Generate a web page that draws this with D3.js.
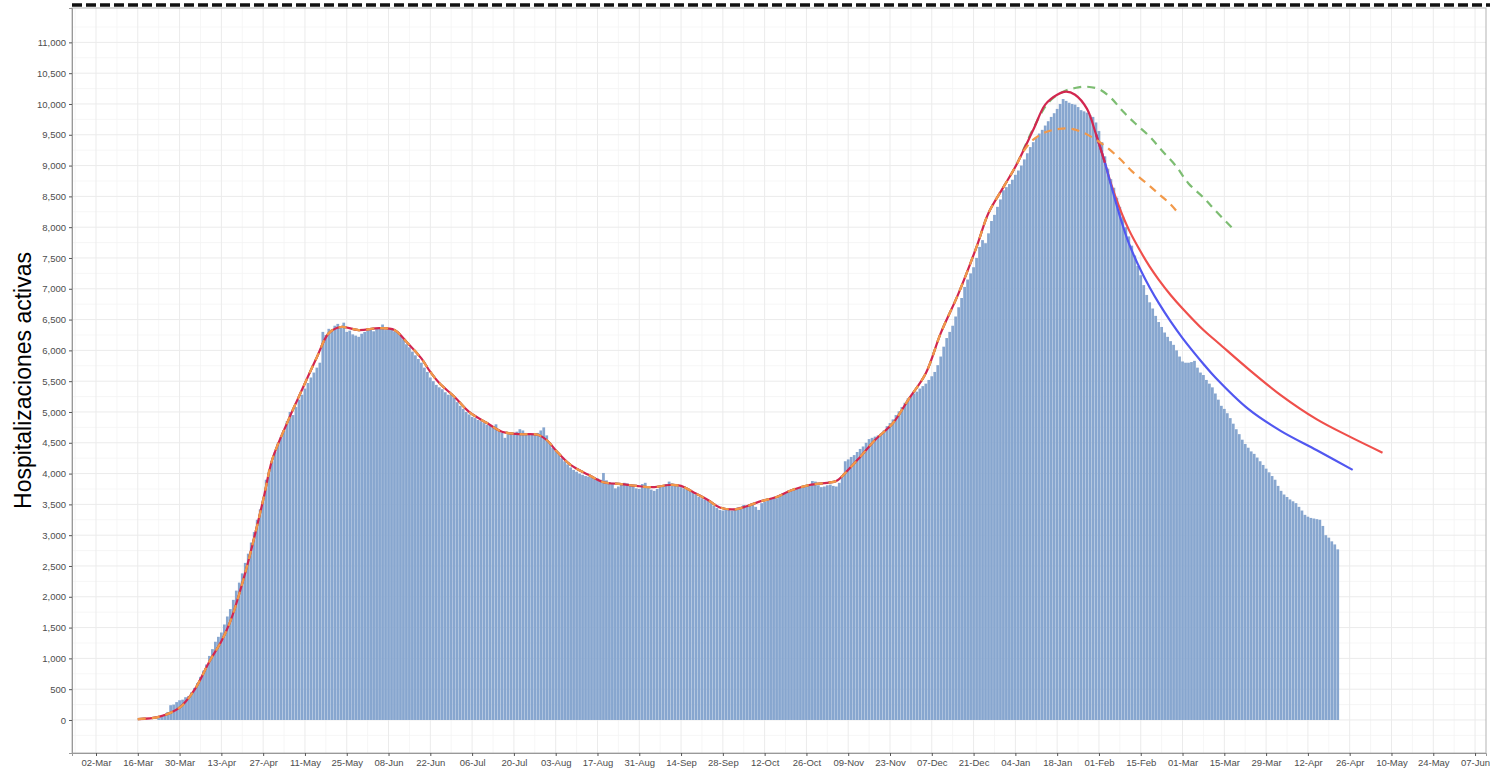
<!DOCTYPE html>
<html>
<head>
<meta charset="utf-8">
<script src="https://cdn.jsdelivr.net/npm/d3@7"></script>
<style>
  body { margin: 0; background: #fff; }
  text { font-family: "Liberation Sans", Arial, Helvetica, sans-serif; }
</style>
</head>
<body>
<div id="chart"></div>
<script>

// daily active hospitalisations, one value per day starting firstDay (rows = weeks, Mon..Sun)
var firstDay = "2020-03-23";
var hospitalized = [
    30, 60, 90, 130, 240, 250, 290,
    320, 330, 370, 390, 450, 520, 600,
    700, 800, 900, 1040, 1150, 1270, 1350,
    1420, 1550, 1680, 1800, 1950, 2100, 2230,
    2380, 2550, 2700, 2880, 3050, 3250, 3420,
    3570, 3900, 4050, 4200, 4350, 4500, 4600,
    4700, 4850, 5000, 4950, 5080, 5200, 5280,
    5380, 5470, 5560, 5640, 5720, 5800, 6300,
    6250, 6350, 6330, 6400, 6430, 6380, 6450,
    6300, 6320, 6260, 6240, 6220, 6270, 6300,
    6320, 6340, 6310, 6350, 6370, 6420, 6330,
    6360, 6340, 6310, 6290, 6240, 6180, 6100,
    6050, 5980, 5920, 5860, 5800, 5720, 5650,
    5560, 5500, 5440, 5400, 5370, 5320, 5280,
    5300, 5230, 5160, 5100, 5050, 5000, 4960,
    4920, 4900, 4870, 4850, 4820, 4790, 4780,
    4760, 4800, 4700, 4660, 4580, 4640, 4660,
    4660, 4680, 4720, 4700, 4660, 4650, 4640,
    4630, 4660, 4700, 4750, 4620, 4500, 4420,
    4370, 4320, 4250, 4200, 4150, 4100, 4060,
    4030, 4000, 3980, 3960, 3950, 3940, 3920,
    3920, 3900, 4010, 3890, 3860, 3850, 3760,
    3790, 3830, 3850, 3840, 3820, 3800, 3760,
    3750, 3830, 3850, 3780, 3740, 3720, 3750,
    3780, 3800, 3830, 3870, 3840, 3820, 3790,
    3780, 3760, 3740, 3720, 3700, 3660, 3620,
    3600, 3580, 3560, 3520, 3480, 3440, 3410,
    3400, 3410, 3420, 3400, 3430, 3450, 3460,
    3490, 3470, 3480, 3500, 3460, 3410, 3520,
    3540, 3560, 3590, 3610, 3600, 3630, 3660,
    3680, 3710, 3730, 3740, 3760, 3770, 3790,
    3800, 3820, 3880, 3870, 3810, 3780, 3790,
    3810, 3820, 3800, 3790, 3850, 3960, 4200,
    4230, 4270, 4300, 4350, 4400, 4440, 4500,
    4560, 4580, 4600, 4620, 4650, 4700, 4770,
    4820, 4880, 4950, 5010, 5080, 5150, 5220,
    5260, 5300, 5330, 5380, 5420, 5460, 5520,
    5580, 5650, 5760, 5900, 6060, 6200, 6300,
    6400, 6550, 6700, 6850, 7030, 7150, 7250,
    7350, 7500, 7680, 7790, 7740, 7900, 8100,
    8200, 8330, 8450, 8600, 8650, 8700, 8770,
    8850, 8920, 9000, 9100, 9200, 9300, 9380,
    9450, 9520, 9580, 9650, 9720, 9790, 9850,
    9920, 10000, 10080, 10050, 10020, 10000, 9990,
    9950, 9900, 9880, 9860, 9820, 9790, 9700,
    9560, 9380, 9150, 8950, 8780, 8640, 8480,
    8330, 8170, 8000, 7850, 7700, 7540, 7370,
    7220, 7060, 6900, 6780, 6680, 6560, 6460,
    6380, 6290, 6220, 6150, 6090, 6000, 5900,
    5820, 5800, 5800, 5810, 5830, 5720, 5640,
    5600, 5520, 5460, 5400, 5300, 5200, 5100,
    5050, 4980, 4900, 4810, 4720, 4640, 4550,
    4480, 4420, 4360, 4320, 4260, 4200, 4140,
    4080, 4020, 3960, 3900, 3800, 3720, 3660,
    3620, 3580, 3550, 3520, 3460, 3400, 3330,
    3300, 3280, 3270, 3260, 3250, 3150, 3000,
    2960, 2900, 2850, 2770
];

// smoothed fit, shared by all scenarios up to early January
var fitCurve = [
    ["2020-03-16", 15], ["2020-03-23", 50], ["2020-03-30", 200], ["2020-04-04", 490],
    ["2020-04-09", 950], ["2020-04-13", 1280], ["2020-04-16", 1600], ["2020-04-21", 2390],
    ["2020-04-27", 3570], ["2020-04-30", 4220], ["2020-05-05", 4820], ["2020-05-10", 5360],
    ["2020-05-15", 5890], ["2020-05-19", 6280], ["2020-05-23", 6380], ["2020-05-29", 6330],
    ["2020-06-05", 6360], ["2020-06-10", 6330], ["2020-06-14", 6140], ["2020-06-19", 5870],
    ["2020-06-22", 5650], ["2020-06-25", 5470], ["2020-06-30", 5250], ["2020-07-05", 5000],
    ["2020-07-11", 4820], ["2020-07-16", 4680], ["2020-07-22", 4640], ["2020-07-28", 4630],
    ["2020-07-31", 4545], ["2020-08-03", 4380], ["2020-08-08", 4140], ["2020-08-14", 3980],
    ["2020-08-19", 3860], ["2020-08-25", 3830], ["2020-08-30", 3800], ["2020-09-05", 3780],
    ["2020-09-10", 3815], ["2020-09-14", 3800], ["2020-09-18", 3700], ["2020-09-23", 3570],
    ["2020-09-27", 3450], ["2020-10-02", 3420], ["2020-10-06", 3470], ["2020-10-10", 3540],
    ["2020-10-16", 3620], ["2020-10-21", 3730], ["2020-10-27", 3815], ["2020-11-02", 3850],
    ["2020-11-05", 3880], ["2020-11-08", 4010], ["2020-11-13", 4270], ["2020-11-18", 4545],
    ["2020-11-24", 4820], ["2020-11-29", 5190], ["2020-12-05", 5630], ["2020-12-10", 6280],
    ["2020-12-16", 6930], ["2020-12-22", 7680], ["2020-12-26", 8230], ["2020-12-31", 8650],
    ["2021-01-04", 8980]
];

// observed-fit continuation through the peak
var peakCurve = [
    ["2021-01-04", 8980], ["2021-01-10", 9580], ["2021-01-14", 9990], ["2021-01-18", 10150],
    ["2021-01-21", 10200], ["2021-01-24", 10150], ["2021-01-28", 9920], ["2021-01-31", 9510],
    ["2021-02-03", 9045]
];

var redCurve = [
    ["2021-01-31", 9510], ["2021-02-03", 9045], ["2021-02-05", 8710], ["2021-02-08", 8300],
    ["2021-02-11", 7960], ["2021-02-15", 7600], ["2021-02-18", 7360], ["2021-02-21", 7150],
    ["2021-02-25", 6900], ["2021-03-01", 6680], ["2021-03-08", 6330], ["2021-03-13", 6120],
    ["2021-03-23", 5700], ["2021-04-03", 5270], ["2021-04-15", 4880], ["2021-04-26", 4600],
    ["2021-05-07", 4340]
];

var blueCurve = [
    ["2021-01-31", 9510], ["2021-02-03", 9045], ["2021-02-05", 8690], ["2021-02-08", 8180],
    ["2021-02-11", 7740], ["2021-02-15", 7300], ["2021-02-18", 7020], ["2021-02-21", 6770],
    ["2021-02-25", 6470], ["2021-03-01", 6200], ["2021-03-08", 5780], ["2021-03-12", 5560],
    ["2021-03-23", 5050], ["2021-04-03", 4690], ["2021-04-15", 4380], ["2021-04-27", 4060]
];

var orangeTail = [
    ["2021-01-04", 8980], ["2021-01-07", 9250], ["2021-01-10", 9420], ["2021-01-14", 9540],
    ["2021-01-18", 9590], ["2021-01-22", 9600], ["2021-01-26", 9550], ["2021-01-30", 9450],
    ["2021-02-03", 9320], ["2021-02-08", 9110], ["2021-02-12", 8910], ["2021-02-17", 8710],
    ["2021-02-21", 8540], ["2021-02-25", 8370], ["2021-02-28", 8200]
];

var greenTail = [
    ["2021-01-04", 8990], ["2021-01-10", 9600], ["2021-01-15", 10020], ["2021-01-20", 10200],
    ["2021-01-24", 10260], ["2021-01-28", 10280], ["2021-02-01", 10240], ["2021-02-05", 10100],
    ["2021-02-09", 9880], ["2021-02-13", 9690], ["2021-02-18", 9470], ["2021-02-22", 9250],
    ["2021-02-27", 8980], ["2021-03-03", 8710], ["2021-03-08", 8480], ["2021-03-12", 8270],
    ["2021-03-18", 7970]
];

var yTickValues = d3.range(0, 11001, 500);
var xTickStart = "2020-03-02";
var xTickEnd = "2021-06-07";
var yLabel = "Hospitalizaciones activas";


var width = 1490;
var height = 770;
var margin = {left: 72, right: 4, top: 8, bottom: 17};

var parse = d3.utcParse("%Y-%m-%d");
var tick0 = parse(xTickStart);
var t1 = parse(xTickEnd);

var x = d3.scaleUtc()
    .domain([d3.utcHour.offset(tick0, -193), d3.utcHour.offset(t1, 88)])
    .range([margin.left, width - margin.right]);

var y = d3.scaleLinear()
    .domain([-536, 11558])
    .range([height - margin.bottom, margin.top]);

var svg = d3.select('#chart').append('svg')
    .attr('width', width)
    .attr('height', height);

var x0 = margin.left, x1 = width - margin.right;
var yTop = margin.top, yBot = height - margin.bottom;

// grid
var majorX = d3.utcDay.range(tick0, d3.utcDay.offset(t1, 1), 14);
var minorX = d3.utcDay.range(d3.utcDay.offset(tick0, -7), d3.utcDay.offset(t1, 8), 14)
    .filter(function(d) { return x(d) > x0 && x(d) < x1; });
var minorY = d3.range(-250, 11300, 500);

var grid = svg.append('g');
grid.selectAll('line.minx').data(minorX).enter().append('line')
    .attr('x1', function(d) { return x(d); }).attr('x2', function(d) { return x(d); })
    .attr('y1', yTop).attr('y2', yBot)
    .attr('stroke', '#f4f4f4').attr('stroke-width', 0.8);
grid.selectAll('line.miny').data(minorY).enter().append('line')
    .attr('x1', x0).attr('x2', x1)
    .attr('y1', function(d) { return y(d); }).attr('y2', function(d) { return y(d); })
    .attr('stroke', '#f4f4f4').attr('stroke-width', 0.8);
grid.selectAll('line.majx').data(majorX).enter().append('line')
    .attr('x1', function(d) { return x(d); }).attr('x2', function(d) { return x(d); })
    .attr('y1', yTop).attr('y2', yBot)
    .attr('stroke', '#ebebeb').attr('stroke-width', 1);
grid.selectAll('line.majy').data(yTickValues).enter().append('line')
    .attr('x1', x0).attr('x2', x1)
    .attr('y1', function(d) { return y(d); }).attr('y2', function(d) { return y(d); })
    .attr('stroke', '#ebebeb').attr('stroke-width', 1);

// bars
var start = parse(firstDay);
var bars = hospitalized.map(function(v, i) { return {date: d3.utcDay.offset(start, i), value: v}; });
var step = x(d3.utcDay.offset(start, 1)) - x(start);
var barW = step * 0.92;

svg.append('g').selectAll('rect').data(bars).enter().append('rect')
    .attr('x', function(d) { return x(d.date) - barW / 2; })
    .attr('width', barW)
    .attr('y', function(d) { return y(d.value); })
    .attr('height', function(d) { return y(0) - y(d.value); })
    .attr('fill', '#87a6cf');

// curves
function toPts(arr) { return arr.map(function(p) { return [parse(p[0]), p[1]]; }); }
var line = d3.line()
    .x(function(d) { return x(d[0]); })
    .y(function(d) { return y(d[1]); })
    .curve(d3.curveCatmullRom.alpha(0.5));

var shared = toPts(fitCurve);
function drawLine(pts, color, dash, w) {
    svg.append('path')
        .datum(pts)
        .attr('d', line)
        .attr('fill', 'none')
        .attr('stroke', color)
        .attr('stroke-width', w)
        .attr('stroke-linecap', 'butt')
        .attr('stroke-dasharray', dash);
}

drawLine(shared.concat(toPts(greenTail).slice(1)), '#7dbd72', '8,6', 2.2);
drawLine(toPts(redCurve), '#ef4f4b', null, 2.2);
drawLine(toPts(blueCurve), '#5157f0', null, 2.2);
drawLine(shared.concat(toPts(peakCurve).slice(1)), '#d2264f', null, 2.2);
drawLine(shared.concat(toPts(orangeTail).slice(1)), '#f2994a', '8,6', 2.2);

// panel border
svg.append('rect')
    .attr('x', x0).attr('y', yTop)
    .attr('width', x1 - x0).attr('height', yBot - yTop)
    .attr('fill', 'none').attr('stroke', '#b3b3b3').attr('stroke-width', 1);

// axes
var yAxis = d3.axisLeft(y)
    .tickValues(yTickValues)
    .tickSize(3)
    .tickPadding(3)
    .tickFormat(d3.format(','));
var gy = svg.append('g')
    .attr('transform', 'translate(' + x0 + ',0)')
    .call(yAxis);

var xAxis = d3.axisBottom(x)
    .tickValues(majorX)
    .tickSize(3)
    .tickPadding(3)
    .tickFormat(d3.utcFormat('%d-%b'));
var gx = svg.append('g')
    .attr('transform', 'translate(0,' + yBot + ')')
    .call(xAxis);

[gx, gy].forEach(function(g) {
    g.select('.domain').attr('stroke', '#999');
    g.selectAll('.tick line').attr('stroke', '#555');
    g.selectAll('.tick text')
        .attr('fill', '#4d4d4d')
        .style('font-size', '9.5px')
        .style('font-family', '"Liberation Sans", Arial, sans-serif');
});

svg.append('text')
    .attr('transform', 'translate(31,' + ((yTop + yBot) / 2) + ') rotate(-90)')
    .attr('text-anchor', 'middle')
    .style('font-size', '23px')
    .attr('fill', '#000')
    .text(yLabel);

// dashed rule along the top edge
svg.append('line')
    .attr('x1', x0).attr('x2', width)
    .attr('y1', 5).attr('y2', 5)
    .attr('stroke', '#111')
    .attr('stroke-width', 3.5)
    .attr('stroke-dasharray', '10,4');

</script>
</body>
</html>
